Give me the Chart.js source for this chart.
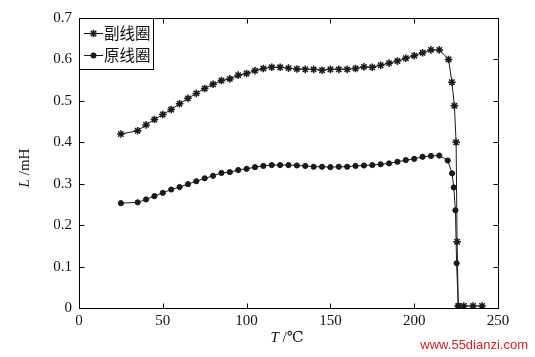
<!DOCTYPE html>
<html><head><meta charset="utf-8">
<script src="https://cdn.jsdelivr.net/npm/chart.js@4/dist/chart.umd.min.js"></script>
<style>html,body{margin:0;padding:0;background:#fff}canvas{display:block}</style>
</head><body>
<canvas id="c" width="535" height="357"></canvas>
<script>
const seriesNames = ['副线圈', '原线圈'];
const secondaryT = [25,35,40,45,50,55,60,65,70,75,80,85,90,95,100,105,110,115,120,125,130,135,140,145,150,155,160,165,170,175,180,185,190,195,200,205,210,215,220.5,222.5,224,225,225.6,226.3,229.6,235.1,240.5];
const secondaryL = [0.420,0.428,0.442,0.455,0.467,0.479,0.493,0.506,0.518,0.530,0.540,0.549,0.553,0.562,0.566,0.573,0.578,0.581,0.581,0.579,0.577,0.576,0.576,0.574,0.576,0.576,0.576,0.578,0.582,0.581,0.586,0.591,0.596,0.603,0.609,0.616,0.623,0.623,0.600,0.545,0.488,0.400,0.160,0.005,0.005,0.005,0.005];
const primaryT = [25,35,40,45,50,55,60,65,70,75,80,85,90,95,100,105,110,115,120,125,130,135,140,145,150,155,160,165,170,175,180,185,190,195,200,205,210,215,220,222.6,223.6,224.6,225.3,226.3];
const primaryL = [0.253,0.255,0.262,0.270,0.278,0.286,0.292,0.299,0.306,0.313,0.319,0.326,0.328,0.333,0.336,0.340,0.343,0.345,0.345,0.345,0.344,0.343,0.341,0.341,0.340,0.341,0.341,0.343,0.344,0.345,0.347,0.349,0.353,0.357,0.360,0.365,0.367,0.368,0.356,0.325,0.291,0.236,0.108,0.005];
const xTicks = [0,50,100,150,200,250];
const yTicks = [0,0.1,0.2,0.3,0.4,0.5,0.6,0.7];

const ink = '#1a1a1a';
const serif = '"Liberation Serif","DejaVu Serif",serif';

function pts(xs, ys){ return xs.map((v,i)=>({x:v, y:ys[i]})); }

const framePlugin = {
  id: 'frame',
  afterDraw(chart){
    const {ctx, chartArea:a, scales:{x, y}} = chart;
    ctx.save();
    ctx.strokeStyle = '#000';
    ctx.lineWidth = 1;
    const L = Math.round(a.left)+0.5, R = Math.round(a.right)+0.5, T = Math.round(a.top)+0.5, B = Math.round(a.bottom)+0.5;
    ctx.strokeRect(L, T, R-L, B-T);
    ctx.beginPath();
    xTicks.forEach(v=>{
      const p = Math.round(x.getPixelForValue(v))+0.5;
      ctx.moveTo(p,B); ctx.lineTo(p,B-5);
      ctx.moveTo(p,T); ctx.lineTo(p,T+5);
    });
    yTicks.forEach(v=>{
      const p = Math.round(y.getPixelForValue(v))+0.5;
      ctx.moveTo(L,p); ctx.lineTo(L+5,p);
      ctx.moveTo(R,p); ctx.lineTo(R-5,p);
    });
    ctx.stroke();

    // legend
    const lx = L, ly = T, lw = 74, lh = 51;
    ctx.fillStyle = '#fff';
    ctx.fillRect(lx, ly, lw, lh);
    ctx.strokeRect(lx, ly, lw, lh);
    ctx.save();
    ctx.beginPath(); ctx.rect(lx, ly, lw, lh); ctx.clip();
    const rows = [33, 55];
    chart.data.datasets.forEach((ds, i)=>{
      const yy = rows[i];
      ctx.strokeStyle = ink; ctx.lineWidth = 1;
      ctx.beginPath(); ctx.moveTo(84, yy+0.5); ctx.lineTo(103, yy+0.5); ctx.stroke();
      ctx.lineWidth = ds.pointBorderWidth;
      Chart.helpers.drawPoint(ctx, {pointStyle: ds.pointStyle, radius: ds.pointRadius, borderWidth: ds.pointBorderWidth, rotation:0}, 93.5, yy+0.5);
      if (ds.pointStyle === 'circle') { ctx.fillStyle = ink; ctx.beginPath(); ctx.arc(93.5, yy+0.5, ds.pointRadius, 0, Math.PI*2); ctx.fill(); }
      ctx.fillStyle = '#111';
      ctx.font = '15.5px "Noto Sans CJK SC"';
      ctx.textBaseline = 'middle'; ctx.textAlign = 'left';
      ctx.fillText(ds.label, 104, yy+0.5);
    });
    ctx.restore();

    // axis titles
    ctx.fillStyle = '#111';
    ctx.textBaseline = 'middle';
    const it = 'italic 15px ' + serif, nm = '15px ' + serif;
    // y title
    ctx.save();
    ctx.translate(25, 168);
    ctx.rotate(-Math.PI/2);
    ctx.font = it; const w1 = ctx.measureText('L').width;
    ctx.font = nm; const w2 = ctx.measureText(' /mH').width;
    let sx = -(w1+w2)/2;
    ctx.textAlign = 'left';
    ctx.font = it; ctx.fillText('L', sx, 0);
    ctx.font = nm; ctx.fillText(' /mH', sx+w1, 0);
    ctx.restore();
    // x title
    ctx.font = it; const t1 = ctx.measureText('T').width;
    ctx.font = nm; const t2 = ctx.measureText(' /℃').width;
    sx = 287 - (t1+t2)/2;
    ctx.textAlign = 'left';
    ctx.font = it; ctx.fillText('T', sx, 338);
    ctx.font = nm; ctx.fillText(' /℃', sx+t1, 338);

    // watermark
    ctx.fillStyle = '#d42020';
    ctx.font = '13px "Liberation Sans",Arial,sans-serif';
    ctx.textAlign = 'right';
    ctx.fillText('www.55dianzi.com', 528, 345);
    ctx.restore();
  }
};

new Chart(document.getElementById('c'), {
  type: 'line',
  data: {
    datasets: [
      { label: seriesNames[0], data: pts(secondaryT, secondaryL), borderColor: ink, backgroundColor: ink, borderWidth: 1,
        pointStyle: 'star', pointRadius: 3.8, pointBorderWidth: 1.5, pointBorderColor: ink, tension: 0 },
      { label: seriesNames[1], data: pts(primaryT, primaryL), borderColor: ink, backgroundColor: ink, borderWidth: 1,
        pointStyle: 'circle', pointRadius: 2.6, pointBorderWidth: 1, pointBackgroundColor: ink, pointBorderColor: ink, tension: 0 }
    ]
  },
  options: {
    responsive: false,
    animation: false,
    devicePixelRatio: 1,
    layout: { padding: { top: 18, right: 37, left: 0, bottom: 0 } },
    plugins: { legend: { display: false }, tooltip: { enabled: false } },
    scales: {
      x: {
        type: 'linear', min: 0, max: 250,
        afterBuildTicks(s){ s.ticks = xTicks.map(v=>({value:v})); },
        afterFit(s){ s.height = 49; },
        grid: { display: false, drawTicks: false }, border: { display: false },
        ticks: { color: '#111', padding: 4, maxRotation: 0, font: { family: serif, size: 15 } }
      },
      y: {
        type: 'linear', min: 0, max: 0.7,
        afterBuildTicks(s){ s.ticks = yTicks.map(v=>({value:v})); },
        afterFit(s){ s.width = 79; },
        grid: { display: false, drawTicks: false }, border: { display: false },
        ticks: { color: '#111', padding: 7, font: { family: serif, size: 15 } }
      }
    }
  },
  plugins: [framePlugin]
});
</script>
</body></html>
